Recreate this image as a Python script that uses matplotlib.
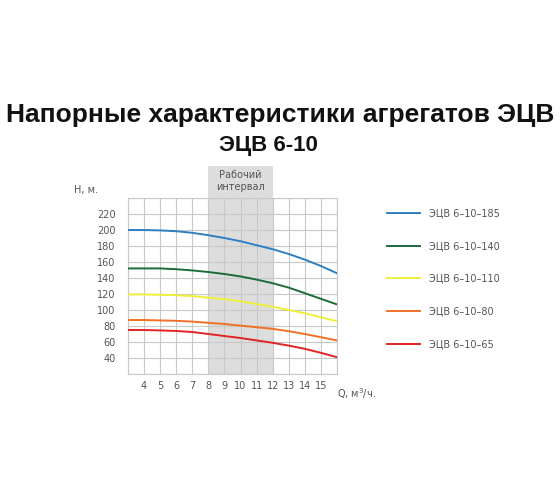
import matplotlib
matplotlib.use("Agg")
import matplotlib.pyplot as plt
from matplotlib.patches import Rectangle

plt.rcParams['font.family'] = ['Liberation Sans', 'DejaVu Sans']

# Расход, м3/ч
q = [3, 4, 5, 6, 7, 8, 9, 10, 11, 12, 13, 14, 15, 16]

# Напор, м, для каждого агрегата
h_185 = [200, 200, 199.5, 198.5, 196.5, 193.5, 190, 186, 181, 176, 170, 163, 155, 146]
h_140 = [152, 152, 152, 151, 149.5, 147.5, 145, 142, 138, 133.5, 128, 121, 114, 107]
h_110 = [119.5, 119.5, 119, 118.5, 117.5, 115.5, 113.5, 111, 107.5, 104, 100, 96, 91, 86]
h_80 = [87.5, 87.5, 87, 86.5, 85.5, 84, 82.5, 80.5, 78.5, 76.5, 73.5, 70, 66, 62]
h_65 = [75, 75, 74.5, 73.8, 72.5, 70, 67.5, 65, 62, 59, 55.5, 51.5, 46.5, 41]

names = ["ЭЦВ 6–10–185", "ЭЦВ 6–10–140", "ЭЦВ 6–10–110", "ЭЦВ 6–10–80", "ЭЦВ 6–10–65"]
colors = ["#2f7fc1", "#1e6b3a", "#eef03a", "#f07028", "#e02424"]
series = [h_185, h_140, h_110, h_80, h_65]

x_ticks = [4, 5, 6, 7, 8, 9, 10, 11, 12, 13, 14, 15]
y_ticks = [40, 60, 80, 100, 120, 140, 160, 180, 200, 220]
work_lo, work_hi = 8, 12

small = dict(family="DejaVu Sans", size=7, color="#555555")

fig = plt.figure(figsize=(5.6, 5.04), dpi=100)
ax = fig.add_axes([0.2286, 0.2579, 0.3732, 0.3492])
ax.set_xlim(3, 16)
ax.set_ylim(20, 240)

# рабочий интервал (выходит над графиком)
ax.add_patch(Rectangle((work_lo, 20), work_hi - work_lo, 260, color="#dddddd",
                       zorder=0, clip_on=False, lw=0))
ax.text((work_lo + work_hi) / 2, 261, "Рабочий\nинтервал", ha="center", va="center",
        linespacing=1.3, **small)

ax.set_xticks(range(3, 17))
ax.set_yticks(range(20, 241, 20))
ax.set_xticklabels([str(v) if v in x_ticks else "" for v in range(3, 17)], **small)
ax.set_yticklabels([str(v) if v in y_ticks else "" for v in range(20, 241, 20)], **small)
ax.grid(True, color="#c8c8c8", lw=0.8)
ax.set_axisbelow(True)
ax.set_facecolor("none")
ax.tick_params(length=0)
ax.tick_params(axis="y", pad=9)
ax.tick_params(axis="x", pad=5)
for s in ax.spines.values():
    s.set_color("#c8c8c8")
    s.set_linewidth(0.8)

lines = []
for h, c, n in zip(series, colors, names):
    ln, = ax.plot(q, h, color=c, lw=1.4, label=n, zorder=3)
    lines.append(ln)

ax.text(-0.144, 1.045, "H, м.", transform=ax.transAxes, ha="right", va="center", **small)
ax.text(1.0, -0.11, "Q, м$^3$/ч.", transform=ax.transAxes, ha="left", va="center", **small)

fig.legend(handles=lines, loc="upper left", bbox_to_anchor=(0.675, 0.604), frameon=False,
           prop={"family": "DejaVu Sans", "size": 7}, labelcolor="#555555",
           handlelength=3.4, handletextpad=0.9, labelspacing=2.33)

fig.text(0.5, 0.772, "Напорные характеристики агрегатов ЭЦВ", ha="center", va="center",
         fontsize=19, fontweight="bold", color="#111111")
fig.text(0.479, 0.712, "ЭЦВ 6-10", ha="center", va="center",
         fontsize=16, fontweight="bold", color="#111111")

fig.savefig("out.png", dpi=100)
